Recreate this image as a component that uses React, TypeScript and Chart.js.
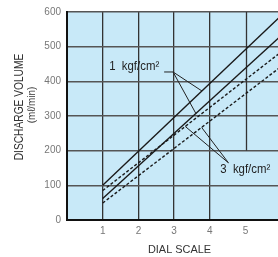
import React, { useEffect, useRef } from "react";
import { Chart, registerables } from "chart.js";

Chart.register(...registerables);

// Dial scale positions where the lines are sampled
const dialScale = [1, 6];
// Discharge volume (mℓ/min)
const solidUpper = [100, 590];
const solidLower = [62, 532];
const dashedUpper = [85, 485];
const dashedLower = [49, 443];

const yTicks = [0, 100, 200, 300, 400, 500, 600];
const xTicks = [0, 1, 2, 3, 4, 5, 6];
const xTickLabels = ["", "1", "2", "3", "4", "5", ""];

// Leader lines (data units)
const leader1A = [
  { x: 2.72, y: 427 },
  { x: 2.97, y: 427 },
  { x: 3.78, y: 372 },
];
const leader1B = [
  { x: 2.97, y: 427 },
  { x: 3.61, y: 307 },
];
const leader3A = [
  { x: 4.52, y: 165 },
  { x: 3.31, y: 270 },
];
const leader3B = [
  { x: 4.52, y: 165 },
  { x: 3.77, y: 267 },
];

const label1 = { text: "1  kgf/cm²", x: 1.18, y: 441 };
const label3 = { text: "3  kgf/cm²", x: 4.29, y: 146 };

// grid line at dial 5 is interrupted below 200 by the label area
const partialGridX = 5;
const partialGridFrom = 200;

const SANS = '"Liberation Sans", Arial, Helvetica, sans-serif';
const X_GRID = "#333";

const pts = (ys: number[]) => ys.map((y, i) => ({ x: dialScale[i], y }));

const decorPlugin = {
  id: "decor",
  beforeDraw(chart: any) {
    const { ctx, chartArea: a } = chart;
    ctx.save();
    ctx.fillStyle = "#c8e9f8";
    ctx.fillRect(a.left, a.top, a.right - a.left, a.bottom - a.top);
    ctx.restore();
  },
  beforeDatasetsDraw(chart: any) {
    const { ctx, chartArea: a } = chart;
    const xs = chart.scales.x;
    const ys = chart.scales.y;
    const px = Math.round(xs.getPixelForValue(partialGridX)) + 0.5;
    ctx.save();
    ctx.strokeStyle = X_GRID;
    ctx.lineWidth = 1.3;
    ctx.beginPath();
    ctx.moveTo(px, a.top);
    ctx.lineTo(px, ys.getPixelForValue(partialGridFrom));
    ctx.stroke();
    ctx.restore();
  },
  afterDraw(chart: any) {
    const { ctx } = chart;
    const xs = chart.scales.x;
    const ys = chart.scales.y;
    ctx.save();
    ctx.fillStyle = "#222";
    ctx.font = `12px ${SANS}`;
    ctx.textAlign = "left";
    ctx.textBaseline = "middle";
    for (const l of [label1, label3]) {
      ctx.save();
      ctx.translate(xs.getPixelForValue(l.x), ys.getPixelForValue(l.y));
      ctx.scale(0.95, 1);
      ctx.fillText(l.text, 0, 0);
      ctx.restore();
    }
    // axis titles
    ctx.fillStyle = "#333";
    ctx.textAlign = "center";
    ctx.font = `11.5px ${SANS}`;
    ctx.save();
    ctx.translate(179.5, 250);
    ctx.scale(0.95, 1);
    ctx.fillText("DIAL SCALE", 0, 0);
    ctx.restore();
    ctx.save();
    ctx.translate(20, 107);
    ctx.rotate(-Math.PI / 2);
    ctx.scale(0.85, 1);
    ctx.font = `12px ${SANS}`;
    ctx.fillText("DISCHARGE VOLUME", 0, 0);
    ctx.restore();
    ctx.save();
    ctx.translate(32, 105);
    ctx.rotate(-Math.PI / 2);
    ctx.scale(0.9, 1);
    ctx.font = `11px ${SANS}`;
    ctx.fillText("(mℓ/min)", 0, 0);
    ctx.restore();
    ctx.restore();
  },
};

export default function App() {
  const ref = useRef<HTMLCanvasElement | null>(null);
  useEffect(() => {
    if (!ref.current) return;
    const line = (data: any, dashed: boolean) => ({
      data,
      borderColor: "#1a1a1a",
      borderWidth: 1.4,
      borderDash: dashed ? [3, 2] : [],
      pointRadius: 0,
      fill: false,
      tension: 0,
    });
    const leader = (data: any) => ({
      data,
      borderColor: "#222",
      borderWidth: 1,
      pointRadius: 0,
      fill: false,
      tension: 0,
    });
    const chart = new Chart(ref.current, {
      type: "line",
      data: {
        datasets: [
          line(pts(solidUpper), false),
          line(pts(solidLower), false),
          line(pts(dashedUpper), true),
          line(pts(dashedLower), true),
          leader(leader1A),
          leader(leader1B),
          leader(leader3A),
          leader(leader3B),
        ],
      },
      options: {
        responsive: false,
        animation: false,
        devicePixelRatio: 1,
        layout: { padding: { top: 7, right: 8, left: 0, bottom: 0 } },
        plugins: { legend: { display: false }, tooltip: { enabled: false } },
        scales: {
          x: {
            type: "linear",
            min: 0,
            max: 6.3,
            afterBuildTicks: (s: any) => {
              s.ticks = xTicks.map((v) => ({ value: v }));
            },
            afterFit: (s: any) => {
              s.height = 37;
            },
            ticks: {
              padding: 5,
              color: "#777",
              font: { family: SANS, size: 10 },
              maxRotation: 0,
              autoSkip: false,
              callback: (v: any) => xTickLabels[xTicks.indexOf(Number(v))] ?? "",
            },
            grid: {
              color: (c: any) => (c.tick && c.tick.value === partialGridX ? "rgba(0,0,0,0)" : X_GRID),
              lineWidth: 1.3,
              drawTicks: false,
            },
            border: { color: "#111", width: 2 },
          },
          y: {
            type: "linear",
            min: 0,
            max: 600,
            afterBuildTicks: (s: any) => {
              s.ticks = yTicks.map((v) => ({ value: v }));
            },
            afterFit: (s: any) => {
              s.width = 67;
            },
            ticks: {
              padding: 6,
              color: "#777",
              font: { family: SANS, size: 10 },
            },
            grid: { color: "#555", lineWidth: 1.5, drawTicks: false },
            border: { color: "#111", width: 2 },
          },
        },
      },
      plugins: [decorPlugin],
    });
    return () => chart.destroy();
  }, []);
  return (
    <div
      style={{
        position: "fixed",
        left: 0,
        top: 0,
        width: 278,
        height: 257,
        overflow: "hidden",
        background: "#fff",
      }}
    >
      <canvas ref={ref} width={300} height={257} style={{ width: 300, height: 257, display: "block" }} />
    </div>
  );
}
